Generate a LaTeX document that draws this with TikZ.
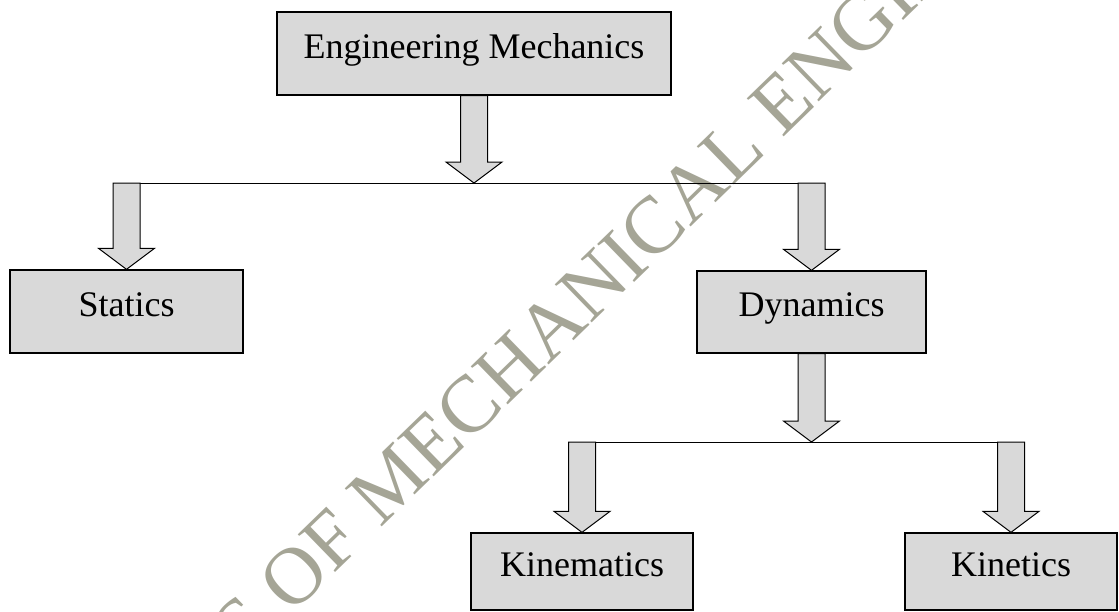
\documentclass[tikz,border=0pt]{standalone}
\usepackage{fontspec}
\setmainfont{Liberation Serif}
\usetikzlibrary{calc}
\definecolor{boxgray}{RGB}{217,217,217}
\definecolor{wmgray}{RGB}{165,165,150}
\tikzset{
  box/.style={draw=black, line width=1.3pt, fill=boxgray, inner sep=0pt,
    font=\fontsize{36}{40}\selectfont, text height=25pt, text depth=16pt},
  barrow/.style={draw=black, line width=1pt, fill=boxgray, line join=miter},
  bar/.style={draw=black, line width=1pt},
  wm/.style={text=wmgray, font=\fontsize{81}{90}\selectfont, inner sep=0pt}
}
\newcommand\blockarr[2]{%
  \draw[barrow] ($(#1)+(-13.5,0)$) -- ($(#1)+(13.5,0)$) -- ($(#2)+(13.5,-21)$)
    -- ($(#2)+(28,-21)$) -- (#2) -- ($(#2)+(-28,-21)$) -- ($(#2)+(-13.5,-21)$) -- cycle;}
\begin{document}
\begin{tikzpicture}[x=1pt,y=-1pt]
\useasboundingbox (0,0) rectangle (1119,611);
\begin{scope}
  \clip (0,0) rectangle (1119,611);
  \node[wm, anchor=base west, rotate=44.2] (wmk) at (74,827) {BASICS OF MECHANICAL ENGINEERING};
\end{scope}
% boxes
\node[box, minimum width=394pt, minimum height=83pt] (em) at (474,53.5) {Engineering Mechanics};
\node[box, minimum width=233pt, minimum height=83pt] (st) at (126.5,311.5) {Statics};
\node[box, minimum width=229pt, minimum height=82pt] (dy) at (811.5,312) {Dynamics};
\node[box, minimum width=222pt, minimum height=77pt] (km) at (582,571.5) {Kinematics};
\node[box, minimum width=212pt, minimum height=77pt] (kt) at (1011,571.5) {Kinetics};
% junction points
\coordinate (b1L) at (st.north |- 0,183);
\coordinate (b1M) at (em.south |- 0,183);
\coordinate (b1R) at (dy.north |- 0,183);
\coordinate (b2L) at (km.north |- 0,442);
\coordinate (b2M) at (dy.south |- 0,442);
\coordinate (b2R) at (kt.north |- 0,442);
% bars
\draw[bar] (b1L) -- (b1R);
\draw[bar] (b2L) -- (b2R);
% block arrows
\blockarr{em.south}{b1M}
\blockarr{b1L}{st.north}
\blockarr{b1R}{dy.north}
\blockarr{dy.south}{b2M}
\blockarr{b2L}{km.north}
\blockarr{b2R}{kt.north}
\end{tikzpicture}
\end{document}
